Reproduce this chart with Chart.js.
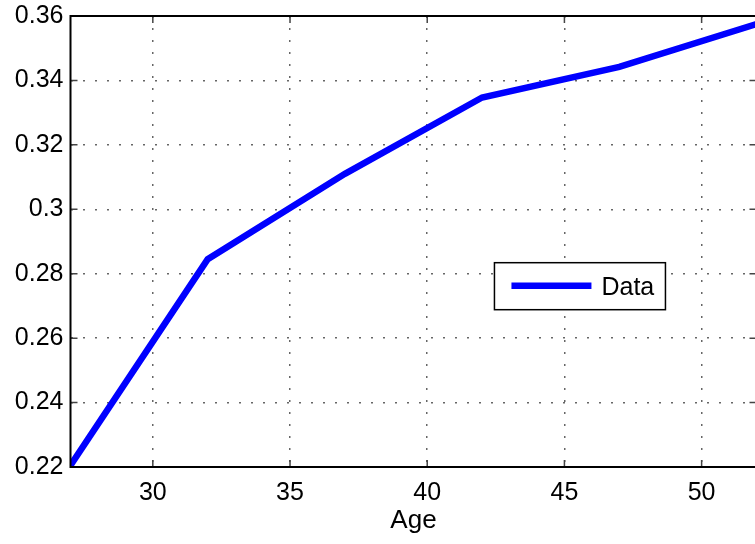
<!DOCTYPE html>
<html lang="en">
<head>
    <meta charset="UTF-8">
    <title>Age chart</title>
    <script src="https://cdn.jsdelivr.net/npm/chart.js"></script>
    <style>
        html, body {
            margin: 0;
            padding: 0;
            background: #ffffff;
            overflow: hidden;
        }
        #myChart {
            display: block;
        }
    </style>
</head>
<body>
    <canvas id="myChart" width="760" height="544"></canvas>

    <script>
        // data
        const ages = [27, 32, 37, 42, 47, 52];
        const values = [0.2205, 0.2845, 0.311, 0.3347, 0.3442, 0.3575];
        const xTicks = [30, 35, 40, 45, 50];
        const yTicks = [0.22, 0.24, 0.26, 0.28, 0.30, 0.32, 0.34, 0.36];
        const seriesName = 'Data';
        const xLabel = 'Age';

        const fontFamily = '"Liberation Sans", Arial, Helvetica, sans-serif';

        // matlab style box with inward ticks on all four sides
        const boxPlugin = {
            id: 'box',
            afterDraw(chart) {
                const ctx = chart.ctx;
                const a = chart.chartArea;
                const xs = chart.scales.x;
                const ys = chart.scales.y;
                const len = 7;
                ctx.save();
                ctx.strokeStyle = '#444';
                ctx.lineWidth = 1.5;
                ctx.beginPath();
                xTicks.forEach(function (v) {
                    const px = xs.getPixelForValue(v);
                    ctx.moveTo(px, a.bottom); ctx.lineTo(px, a.bottom - len);
                    ctx.moveTo(px, a.top); ctx.lineTo(px, a.top + len);
                });
                yTicks.forEach(function (v) {
                    const py = ys.getPixelForValue(v);
                    ctx.moveTo(a.left, py); ctx.lineTo(a.left + len, py);
                    ctx.moveTo(a.right, py); ctx.lineTo(a.right - len, py);
                });
                ctx.stroke();
                // right edge falls just outside the picture, so only three sides
                ctx.strokeStyle = '#000';
                ctx.lineWidth = 2;
                ctx.beginPath();
                ctx.moveTo(a.right + 2, a.top);
                ctx.lineTo(a.left, a.top);
                ctx.lineTo(a.left, a.bottom);
                ctx.lineTo(a.right + 2, a.bottom);
                ctx.stroke();

                // legend box
                const ds = chart.data.datasets[0];
                const lx = a.left + (a.right - a.left) * 0.618;
                const ly = a.top + (a.bottom - a.top) * 0.547;
                const lw = 171, lh = 47;
                ctx.fillStyle = '#fff';
                ctx.fillRect(lx, ly, lw, lh);
                ctx.strokeStyle = '#000';
                ctx.lineWidth = 1.5;
                ctx.strokeRect(lx, ly, lw, lh);
                ctx.strokeStyle = ds.borderColor;
                ctx.lineWidth = 6.5;
                ctx.beginPath();
                ctx.moveTo(lx + 17, ly + 23);
                ctx.lineTo(lx + 97, ly + 23);
                ctx.stroke();
                ctx.fillStyle = '#000';
                ctx.font = '25px ' + fontFamily;
                ctx.textBaseline = 'middle';
                ctx.fillText(ds.label, lx + 107, ly + 25);
                ctx.restore();
            }
        };

        const config = {
            type: 'line',
            data: {
                datasets: [{
                    label: seriesName,
                    data: ages.map(function (a, i) { return { x: a, y: values[i] }; }),
                    borderColor: '#0000ff',
                    borderWidth: 6.5,
                    pointRadius: 0,
                    tension: 0,
                    fill: false,
                    clip: 0
                }]
            },
            options: {
                responsive: false,
                animation: false,
                events: [],
                layout: {
                    padding: { top: 16, right: 3.5, left: 0, bottom: 0 }
                },
                plugins: {
                    legend: { display: false },
                    tooltip: { enabled: false }
                },
                scales: {
                    x: {
                        type: 'linear',
                        min: 27,
                        max: 52,
                        afterBuildTicks: function (s) {
                            s.ticks = xTicks.map(function (v) { return { value: v }; });
                        },
                        afterFit: function (s) {
                            s.height = 77;
                            s.paddingLeft = 0;
                            s.paddingRight = 0;
                        },
                        grid: {
                            color: '#666',
                            lineWidth: 1.5,
                            drawTicks: false
                        },
                        border: { display: false, dash: [2, 10] },
                        ticks: {
                            color: '#000',
                            padding: 11,
                            maxRotation: 0,
                            font: { family: fontFamily, size: 25 }
                        },
                        title: {
                            display: true,
                            text: xLabel,
                            color: '#000',
                            padding: { top: 0, bottom: 8 },
                            font: { family: fontFamily, size: 26 }
                        }
                    },
                    y: {
                        min: 0.22,
                        max: 0.36,
                        afterBuildTicks: function (s) {
                            s.ticks = yTicks.map(function (v) { return { value: v }; });
                        },
                        afterFit: function (s) {
                            s.width = 70.5;
                            s.paddingTop = 0;
                            s.paddingBottom = 0;
                        },
                        grid: {
                            color: '#666',
                            lineWidth: 1.5,
                            drawTicks: false
                        },
                        border: { display: false, dash: [2, 10] },
                        ticks: {
                            color: '#000',
                            padding: 7,
                            callback: function (v) { return String(Number(v.toFixed(2))); },
                            font: { family: fontFamily, size: 25 }
                        }
                    }
                }
            },
            plugins: [boxPlugin]
        };

        var myChart = new Chart(document.getElementById('myChart'), config);
    </script>
</body>
</html>
